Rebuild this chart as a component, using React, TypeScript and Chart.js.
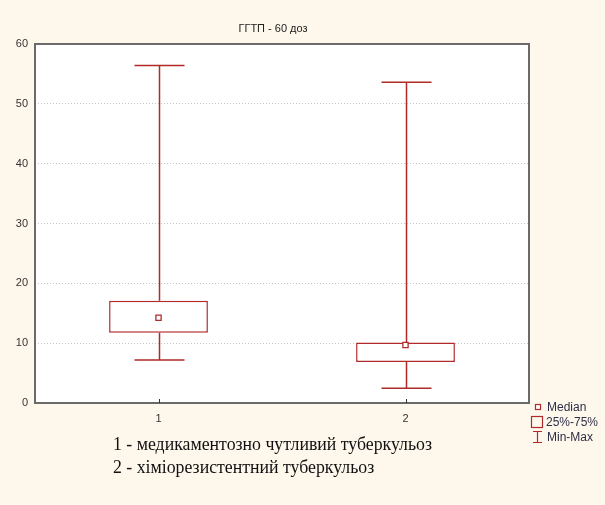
import React, { useEffect, useRef } from "react";
import { Chart, registerables } from "chart.js";

Chart.register(...registerables);

const categories = ["1", "2"];
const minVals = [7.2, 2.45];
const q1Vals = [11.75, 6.85];
const medianVals = [14.25, 9.7];
const q3Vals = [17.1, 10.1];
const maxVals = [56.4, 53.6];
const yTicks = [0, 10, 20, 30, 40, 50, 60];
const chartTitle = "ГГТП - 60 доз";
const legendLabels = ["Median", "25%-75%", "Min-Max"];
const noteLines = [
  "1 - медикаментозно чутливий туберкульоз",
  "2 - хіміорезистентний туберкульоз",
];

const RED = "#b02a2a";
const BG = "#fef8ec";

const boxPlugin = {
  id: "boxExtras",
  beforeDraw(chart: any) {
    const { ctx, chartArea } = chart;
    ctx.save();
    ctx.fillStyle = BG;
    ctx.fillRect(0, 0, chart.width, chart.height);
    ctx.fillStyle = "#ffffff";
    ctx.fillRect(chartArea.left, chartArea.top, chartArea.right - chartArea.left, chartArea.bottom - chartArea.top);
    ctx.restore();
  },
  beforeDatasetsDraw(chart: any) {
    const { ctx } = chart;
    const x = chart.scales.x;
    const y = chart.scales.y;
    ctx.save();
    ctx.strokeStyle = RED;
    ctx.lineWidth = 1.5;
    categories.forEach((c, i) => {
      const cx = Math.round(x.getPixelForValue(i)) + 0.5;
      const half = 25;
      const yMax = y.getPixelForValue(maxVals[i]);
      const yMin = y.getPixelForValue(minVals[i]);
      const yQ3 = y.getPixelForValue(q3Vals[i]);
      const yQ1 = y.getPixelForValue(q1Vals[i]);
      ctx.beginPath();
      ctx.moveTo(cx, yQ3);
      ctx.lineTo(cx, yMax);
      ctx.moveTo(cx - half, yMax);
      ctx.lineTo(cx + half, yMax);
      ctx.moveTo(cx, yQ1);
      ctx.lineTo(cx, yMin);
      ctx.moveTo(cx - half, yMin);
      ctx.lineTo(cx + half, yMin);
      ctx.stroke();
    });
    ctx.restore();
  },
  afterDraw(chart: any) {
    const { ctx, chartArea } = chart;
    const x = chart.scales.x;
    ctx.save();
    // frame
    ctx.strokeStyle = "#6a6a6a";
    ctx.lineWidth = 2;
    ctx.strokeRect(chartArea.left, chartArea.top, chartArea.right - chartArea.left, chartArea.bottom - chartArea.top);
    // inward x ticks
    ctx.lineWidth = 1;
    ctx.strokeStyle = "#333";
    categories.forEach((c, i) => {
      const px = Math.round(x.getPixelForValue(i)) + 0.5;
      ctx.beginPath();
      ctx.moveTo(px, chartArea.bottom);
      ctx.lineTo(px, chartArea.bottom - 4);
      ctx.stroke();
    });
    // title
    ctx.fillStyle = "#222";
    ctx.font = "11px 'Liberation Sans', Arial, sans-serif";
    ctx.textAlign = "center";
    ctx.textBaseline = "middle";
    ctx.fillText(chartTitle, 273, 29);
    // legend
    ctx.textAlign = "left";
    ctx.font = "12px 'Liberation Sans', Arial, sans-serif";
    ctx.strokeStyle = RED;
    ctx.lineWidth = 1.2;
    ctx.fillStyle = "#fff";
    ctx.fillRect(535.5, 404.5, 5, 5);
    ctx.strokeRect(535.5, 404.5, 5, 5);
    ctx.strokeRect(531.5, 416.5, 11, 11);
    ctx.beginPath();
    ctx.moveTo(533, 431.5);
    ctx.lineTo(542, 431.5);
    ctx.moveTo(537.5, 431.5);
    ctx.lineTo(537.5, 442.5);
    ctx.moveTo(533, 442.5);
    ctx.lineTo(542, 442.5);
    ctx.stroke();
    ctx.fillStyle = "#2e2e48";
    ctx.fillText(legendLabels[0], 547, 408);
    ctx.fillText(legendLabels[1], 546, 423);
    ctx.fillText(legendLabels[2], 547, 438);
    // notes
    ctx.fillStyle = "#111";
    ctx.font = "17.8px 'Liberation Serif', 'Times New Roman', serif";
    ctx.fillText(noteLines[0], 113, 445);
    ctx.fillText(noteLines[1], 113, 468);
    ctx.restore();
  },
};

export default function App() {
  const ref = useRef<HTMLCanvasElement | null>(null);
  useEffect(() => {
    document.body.style.margin = "0";
    const chart = new Chart(ref.current as HTMLCanvasElement, {
      type: "bar",
      data: {
        labels: categories,
        datasets: [
          {
            type: "bar",
            data: categories.map((c, i) => [q1Vals[i], q3Vals[i]]) as any,
            backgroundColor: "#ffffff",
            borderColor: RED,
            borderWidth: 1.5,
            borderSkipped: false,
            barPercentage: 0.4,
            categoryPercentage: 1,
            order: 2,
          },
          {
            type: "line",
            data: medianVals,
            showLine: false,
            pointStyle: "rect",
            pointRadius: 3.7,
            pointBackgroundColor: "#ffffff",
            pointBorderColor: RED,
            pointBorderWidth: 1.3,
            order: 1,
          } as any,
        ],
      },
      options: {
        animation: false,
        responsive: false,
        devicePixelRatio: 1,
        layout: { padding: { top: 44, right: 76, left: 0, bottom: 0 } },
        plugins: { legend: { display: false }, tooltip: { enabled: false }, title: { display: false } },
        scales: {
          x: {
            type: "category",
            offset: true,
            grid: { display: false, drawTicks: false },
            border: { display: false },
            ticks: {
              padding: 9,
              color: "#333",
              font: { family: "'Liberation Sans', Arial, sans-serif", size: 11 },
            },
            afterFit: (s: any) => {
              s.height = 102;
            },
          },
          y: {
            min: 0,
            max: 60,
            afterBuildTicks: (s: any) => {
              s.ticks = yTicks.map((v) => ({ value: v }));
            },
            grid: {
              drawTicks: false,
              color: (c: any) => (c.tick && (c.tick.value === 0 || c.tick.value === 60) ? "rgba(0,0,0,0)" : "#c4c4c4"),
              lineWidth: 1,
            },
            border: { display: false, dash: [1, 2] },
            ticks: {
              padding: 7,
              color: "#333",
              font: { family: "'Liberation Sans', Arial, sans-serif", size: 11 },
            },
            afterFit: (s: any) => {
              s.width = 35;
            },
          },
        },
      },
      plugins: [boxPlugin],
    });
    return () => chart.destroy();
  }, []);
  return (
    <div style={{ position: "fixed", left: 0, top: 0, width: 605, height: 505, background: BG }}>
      <canvas ref={ref} width={605} height={505} style={{ display: "block", width: 605, height: 505 }} />
    </div>
  );
}
